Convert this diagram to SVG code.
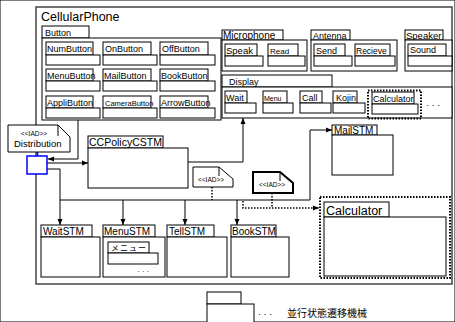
<svg xmlns="http://www.w3.org/2000/svg" width="455" height="322" viewBox="0 0 455 322">
<defs>
<marker id="ah" viewBox="0 0 6 6" refX="6" refY="3" markerWidth="6" markerHeight="6" markerUnits="userSpaceOnUse" orient="auto"><path d="M0,0.5 L6,3 L0,5.5 Z" fill="#000"/></marker>
</defs>
<style>
rect,path.n{fill:#fff;stroke:#000;stroke-width:1}
text{font-family:"Liberation Sans",Arial,sans-serif;font-size:9px;fill:#000}
.c{fill:none;stroke:#000;stroke-width:1}
.d{fill:none;stroke:#000;stroke-width:1.5;stroke-dasharray:1.5 1.5}
.big{font-size:12.5px}
.stm{font-size:10px}
.iad{font-size:6.5px}
.dot{fill:none;stroke:#000;stroke-width:2;stroke-dasharray:1.5 1.5}
</style>
<rect width="455" height="322" fill="#fff" stroke="none"/>
<g id="CellularPhone">
<rect x="36" y="7" width="416" height="277" style="stroke:#444;stroke-width:1.5"/>
<text x="41" y="21" class="big">CellularPhone</text>
</g>
<g id="Button">
<rect x="42" y="26" width="47" height="12"/><text x="45" y="36">Button</text>
<rect x="42" y="38" width="179" height="82"/>
</g>
<g id="NumButton"><rect x="46" y="42" width="47" height="13"/><rect x="46" y="55" width="54" height="10"/><text x="47" y="52">NumButton</text></g>
<g id="OnButton"><rect x="103" y="42" width="48" height="13"/><rect x="103" y="55" width="54" height="10"/><text x="105" y="52">OnButton</text></g>
<g id="OffButton"><rect x="160" y="42" width="48" height="13"/><rect x="160" y="55" width="55" height="10"/><text x="162" y="52">OffButton</text></g>
<g id="MenuButton"><rect x="46" y="69" width="47" height="12"/><rect x="46" y="81" width="54" height="10"/><text x="47" y="79">MenuButton</text></g>
<g id="MailButton"><rect x="103" y="69" width="48" height="12"/><rect x="103" y="81" width="54" height="10"/><text x="104" y="79">MailButton</text></g>
<g id="BookButton"><rect x="160" y="69" width="48" height="12"/><rect x="160" y="81" width="55" height="10"/><text x="161" y="79">BookButton</text></g>
<g id="AppliButton"><rect x="46" y="96" width="47" height="12"/><rect x="46" y="108" width="54" height="10"/><text x="47" y="106">AppliButton</text></g>
<g id="CameraButton"><rect x="103" y="96" width="48" height="12"/><rect x="103" y="108" width="54" height="10"/><text x="105" y="105.5" style="font-size:7.5px">CameraButton</text></g>
<g id="ArrowButton"><rect x="160" y="96" width="48" height="12"/><rect x="160" y="108" width="55" height="10"/><text x="161" y="106">ArrowButton</text></g>
<g id="Microphone">
<rect x="222" y="30" width="61" height="10"/><text x="223" y="38.5" style="font-size:10px">Microphone</text>
<rect x="222" y="40" width="85" height="31"/>
</g>
<g id="Speak"><rect x="225" y="44" width="32" height="12"/><rect x="225" y="56" width="38" height="10"/><text x="226" y="54" style="font-size:9.5px">Speak</text></g>
<g id="Read"><rect x="268" y="44" width="30" height="12"/><rect x="268" y="56" width="37" height="10"/><text x="270" y="53.5" style="font-size:8px">Read</text></g>
<g id="Antenna">
<rect x="311" y="30" width="39" height="10"/><text x="313" y="38.5">Antenna</text>
<rect x="311" y="40" width="86" height="31"/>
</g>
<g id="Send"><rect x="314" y="44" width="31" height="12"/><rect x="314" y="56" width="38" height="10"/><text x="316" y="54">Send</text></g>
<g id="Recieve"><rect x="355" y="44" width="35" height="12"/><rect x="355" y="56" width="40" height="10"/><text x="356" y="53.5" style="font-size:8.5px">Recieve</text></g>
<g id="Speaker">
<rect x="405" y="30" width="38" height="10"/><text x="406" y="38.5" style="font-size:9.5px">Speaker</text>
<rect x="405" y="40" width="47" height="31"/>
</g>
<g id="Sound"><rect x="408" y="44" width="38" height="12"/><rect x="408" y="56" width="44" height="10"/><text x="410" y="53">Sound</text></g>
<g id="Display">
<rect x="222" y="75" width="110" height="12"/><text x="229" y="85">Display</text>
<rect x="222" y="87" width="230" height="31"/>
<text x="426" y="108">·  ·  ·</text>
</g>
<g id="Wait"><rect x="225" y="91" width="22" height="12"/><rect x="225" y="103" width="31" height="10"/><text x="226" y="101">Wait</text></g>
<g id="Menu"><rect x="263" y="91" width="24" height="12"/><rect x="263" y="103" width="30" height="10"/><text x="264" y="100.5" style="font-size:7px">Menu</text></g>
<g id="Call"><rect x="300" y="91" width="22" height="12"/><rect x="300" y="103" width="31" height="10"/><text x="302" y="101">Call</text></g>
<g id="Kojin"><rect x="333" y="91" width="24" height="12"/><rect x="333" y="103" width="32" height="10"/><text x="336" y="101">Kojin</text></g>
<g id="CalculatorView">
<rect x="368" y="90.5" width="53" height="28" class="dot"/>
<rect x="372" y="92" width="42" height="12"/><rect x="372" y="104" width="46" height="10"/>
<text x="373" y="101.5">Calculator</text>
</g>
<g id="connectors">
<path class="c" d="M78,120 V159 H48" marker-end="url(#ah)"/>
<path class="c" d="M47,163 H88" marker-end="url(#ah)"/>
<path class="c" d="M47,169 H60 V200 H310 V130 H332" marker-end="url(#ah)"/>
<path class="c" d="M60,200 V225" marker-end="url(#ah)"/>
<path class="c" d="M123,200 V225" marker-end="url(#ah)"/>
<path class="c" d="M185,200 V225" marker-end="url(#ah)"/>
<path class="c" d="M237,200 V225" marker-end="url(#ah)"/>
<path class="c" d="M188,162 H243 V118" marker-end="url(#ah)"/>
<path class="d" d="M212,187 V200"/>
<path class="d" d="M243,201 V208 H319" marker-end="url(#ah)"/>
<path class="d" d="M272,193 V208"/>
<path d="M37.5,152 V156" fill="none" stroke="#0000ff" stroke-width="1.5"/>
</g>
<g id="Distribution">
<path class="n" d="M8,125 H58 L70,137 V152 H8 Z"/>
<path class="c" d="M58,125 V136"/>
<text x="21" y="136" class="iad">&lt;&lt;IAD&gt;&gt;</text>
<text x="14" y="147" style="font-size:9.5px">Distribution</text>
</g>
<g id="Fork"><rect x="27" y="156" width="20" height="18" style="stroke:#0000ff;stroke-width:1.5"/></g>
<g id="CCPolicyCSTM">
<rect x="88" y="136" width="75" height="12"/><text x="89" y="146" style="font-size:10.5px">CCPolicyCSTM</text>
<rect x="88" y="148" width="100" height="40"/>
</g>
<g id="IAD1">
<path class="n" d="M193,167 H219 L233,179 V187 H193 Z"/>
<path class="c" d="M219,167 V176"/>
<text x="198" y="182" class="iad">&lt;&lt;IAD&gt;&gt;</text>
</g>
<g id="IAD2">
<path class="n" d="M253,172 H280 L293,183 V193 H253 Z" style="stroke-width:2"/>
<path class="c" d="M280,172 V181"/>
<text x="259" y="187" class="iad">&lt;&lt;IAD&gt;&gt;</text>
</g>
<g id="MailSTM">
<rect x="332" y="125" width="45" height="10"/><text x="334" y="134" class="stm">MailSTM</text>
<rect x="332" y="135" width="61" height="40"/>
</g>
<g id="CalculatorSTM">
<rect x="320" y="197" width="130" height="81" class="dot"/>
<rect x="324" y="202" width="65" height="15"/><text x="326" y="215" class="big">Calculator</text>
<rect x="324" y="217" width="122" height="59"/>
</g>
<g id="WaitSTM">
<rect x="41" y="225" width="51" height="12"/><text x="43" y="235" class="stm">WaitSTM</text>
<rect x="41" y="237" width="59" height="40"/>
</g>
<g id="MenuSTM">
<rect x="103" y="225" width="52" height="12"/><text x="104" y="235" class="stm">MenuSTM</text>
<rect x="103" y="237" width="62" height="40"/>
<rect x="108" y="242" width="41" height="11"/><rect x="108" y="253" width="50" height="11"/>
<text x="111" y="251" style="font-size:8px;letter-spacing:1px;font-family:'Noto Sans CJK JP',sans-serif">メニュー</text>
<text x="137" y="274" style="font-size:8px">·  ·  ·</text>
</g>
<g id="TellSTM">
<rect x="167" y="225" width="47" height="12"/><text x="169" y="235" class="stm">TellSTM</text>
<rect x="167" y="237" width="60" height="40"/>
</g>
<g id="BookSTM">
<rect x="231" y="225" width="45" height="12"/><text x="232" y="235" class="stm">BookSTM</text>
<rect x="231" y="237" width="58" height="40"/>
</g>
<g id="Legend">
<rect x="207" y="292" width="34" height="12"/>
<rect x="207" y="304" width="47" height="22"/>
<text x="258" y="317">·  ·  ·</text>
<text x="287" y="317" style="font-size:10px;font-family:'Liberation Sans','Noto Sans CJK JP',sans-serif">並行状態遷移機械</text>
</g>
</svg>
